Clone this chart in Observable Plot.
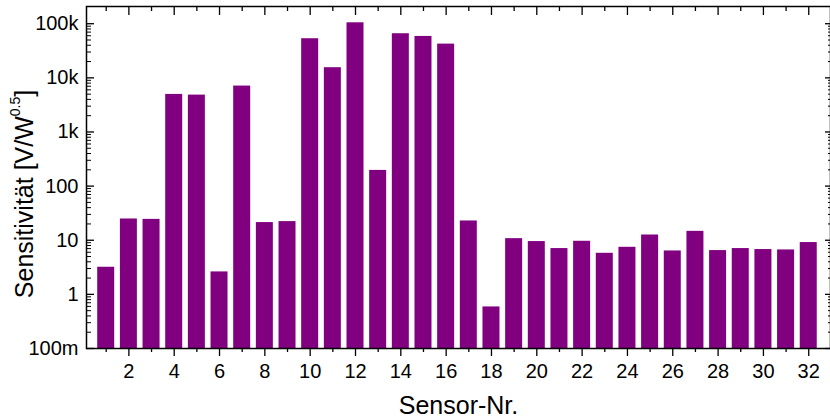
<!DOCTYPE html>
<html><head><meta charset="utf-8">
<script src="https://cdn.jsdelivr.net/npm/d3@7"></script>
<script src="https://cdn.jsdelivr.net/npm/@observablehq/plot@0.6"></script>
<style>body{margin:0;background:#fff}#chart{width:830px;height:417px}</style>
</head><body><div id="chart"></div>
<script>
const sensors = [1,2,3,4,5,6,7,8,9,10,11,12,13,14,15,16,17,18,19,20,21,22,23,24,25,26,27,28,29,30,31,32];
const sensitivity = [3.17, 24.7, 24.3, 4940, 4800, 2.6, 7050, 21.2, 22.1, 52800, 15400, 104000, 195, 65300, 58200, 42000,
  22.7, 0.586, 10.7, 9.45, 7.02, 9.57, 5.74, 7.41, 12.5, 6.34, 14.6, 6.44, 7.02, 6.73, 6.62, 9.06];
const yTickValues = [0.1, 1, 10, 100, 1000, 10000, 100000];
const yTickLabels = ["100m", "1", "10", "100", "1k", "10k", "100k"];
const yMinorFactors = [2, 3, 4, 5, 6, 7, 8, 9];
const xMajorTicks = [2,4,6,8,10,12,14,16,18,20,22,24,26,28,30,32];
const xMinorTicks = [1,3,5,7,9,11,13,15,17,19,21,23,25,27,29,31];
const xLabel = "Sensor-Nr.";
const yLabelMain = "Sensitivität [V/W";
const yLabelSup = "0.5";
const yLabelEnd = "]";
const yDomain = [0.1, 2.08e5];
const xDomain = [0.13, 32.96];

const data = sensors.map((s, i) => ({sensor: s, value: sensitivity[i]}));
const yMinor = yTickValues.slice(0, -1).flatMap(d => yMinorFactors.map(f => d * f));
const fmt = d => yTickLabels[yTickValues.indexOf(d)];
const half = 0.375;

const chart = Plot.plot({
  width: 830, height: 417,
  marginLeft: 86, marginRight: 0, marginTop: 6, marginBottom: 69,
  style: {fontFamily: "'Liberation Sans', Arial, sans-serif", fontSize: "20px", color: "#000", background: "#fff"},
  x: {type: "linear", domain: xDomain},
  y: {type: "log", domain: yDomain},
  marks: [
    Plot.rectY(data, {x1: d => d.sensor - half, x2: d => d.sensor + half, y1: yDomain[0], y2: "value", fill: "#800080"}),
    Plot.axisY({ticks: yTickValues, tickSize: 0, tickPadding: 8, tickFormat: fmt, fontSize: 20, label: null}),
    Plot.axisY({ticks: yTickValues, tickSize: -8, text: null, label: null, strokeWidth: 1.3}),
    Plot.axisY({ticks: yMinor, tickSize: -5, text: null, label: null}),
    Plot.axisY({anchor: "right", ticks: yTickValues, tickSize: -6, text: null, label: null, strokeWidth: 1.3}),
    Plot.axisY({anchor: "right", ticks: yMinor, tickSize: -3, text: null, label: null}),
    Plot.axisX({ticks: xMajorTicks, tickSize: 0, tickPadding: 15, fontSize: 20, label: null, tickFormat: d => String(d)}),
    Plot.axisX({ticks: xMajorTicks, tickSize: 8, text: null, label: null, strokeWidth: 1.3}),
    Plot.axisX({ticks: xMinorTicks, tickSize: 4, text: null, label: null, strokeWidth: 1.3}),
    Plot.axisX({anchor: "top", ticks: xMajorTicks, tickSize: -8, text: null, label: null, strokeWidth: 1.3}),
    Plot.axisX({anchor: "top", ticks: xMinorTicks, tickSize: -4, text: null, label: null, strokeWidth: 1.3}),
    Plot.frame({stroke: "#000", strokeWidth: 1.5}),
    Plot.text([xLabel], {frameAnchor: "bottom", dy: 65, fontSize: 25, lineAnchor: "bottom", text: d => d, fill: "#000"})
  ]
});

const svg = d3.select(chart);
const t = svg.append("text")
  .attr("transform", "translate(33,194) rotate(-90)")
  .attr("text-anchor", "middle")
  .attr("font-size", 25)
  .attr("fill", "#000");
t.append("tspan").text(yLabelMain);
t.append("tspan").attr("dy", -13).attr("font-size", 14).text(yLabelSup);
t.append("tspan").attr("dy", 13).text(yLabelEnd);

document.getElementById("chart").appendChild(chart);
</script>
</body></html>
